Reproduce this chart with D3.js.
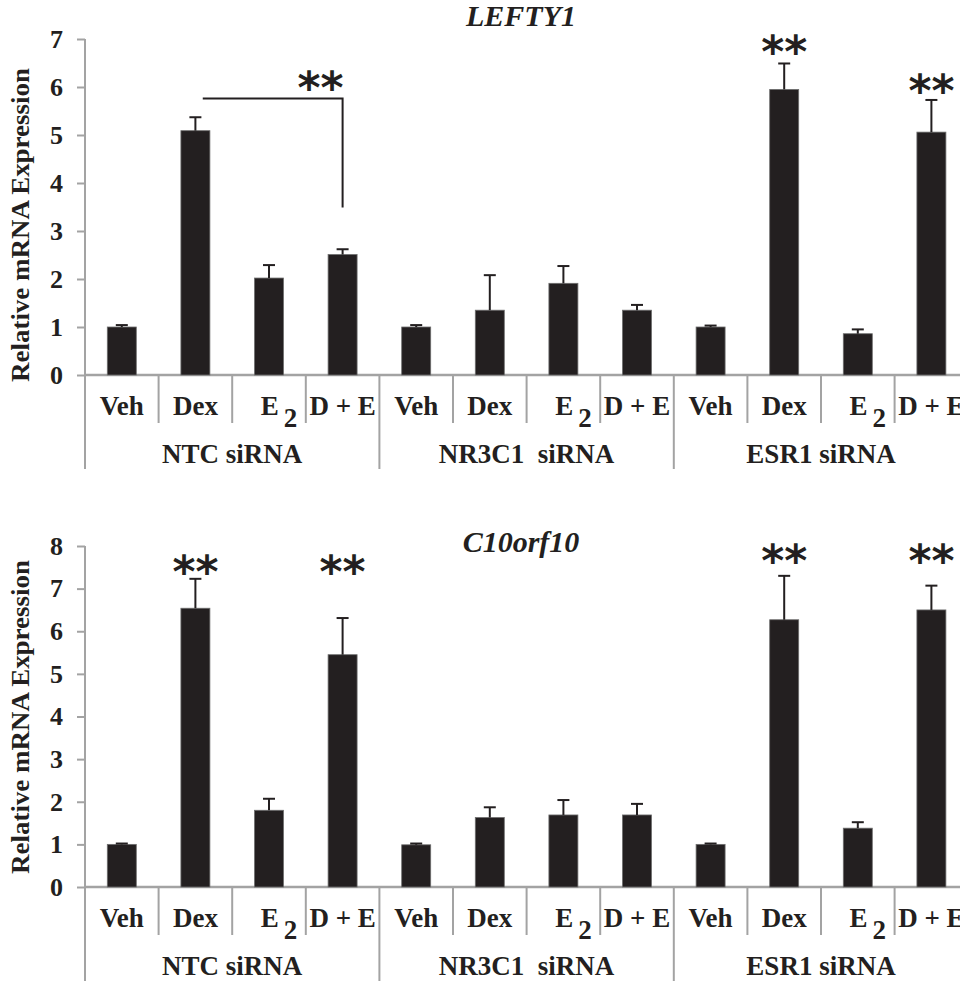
<!DOCTYPE html>
<html>
<head>
<meta charset="UTF-8">
<title>LEFTY1 and C10orf10 expression</title>
<style>
  body { margin: 0; background: #fff; }
  svg { display: block; }
  text { font-family: "Liberation Serif", "Times New Roman", serif; font-weight: bold; fill: #231f20; }
</style>
</head>
<body>
<svg></svg>
<script src="https://d3js.org/d3.v7.min.js"></script>
<script>

// ---- data ----
let treatments = ["Veh", "Dex", "E2", "D + E"];
let groups = ["NTC siRNA", "NR3C1  siRNA", "ESR1 siRNA"];

let leftyTicks = [0, 1, 2, 3, 4, 5, 6, 7];
let leftyMean = [1.00, 5.09, 2.02, 2.51, 1.00, 1.35, 1.91, 1.35, 1.00, 5.95, 0.86, 5.06];
let leftyErr  = [0.04, 0.28, 0.27, 0.11, 0.04, 0.73, 0.36, 0.11, 0.03, 0.54, 0.09, 0.67];
let leftyStars = [[9, 6.9], [11, 6.1]];          // [category, height]
let leftyBracket = [[1.1, 5.76], [3, 5.76], [3, 3.49]];
let leftyBracketStar = [2.7, 6.15];

let c10Ticks = [0, 1, 2, 3, 4, 5, 6, 7, 8];
let c10Mean = [1.00, 6.54, 1.80, 5.45, 0.99, 1.63, 1.69, 1.69, 1.00, 6.27, 1.38, 6.50];
let c10Err  = [0.02, 0.69, 0.27, 0.86, 0.03, 0.24, 0.35, 0.26, 0.02, 1.03, 0.14, 0.57];
let c10Stars = [[1, 7.59], [3, 7.59], [9, 7.85], [11, 7.85]];

// ---- layout ----
let width = 960, height = 981;
let ink = "#231f20", axisGrey = "#a3a3a3";

let svg = d3.select("svg")
    .attr("width", width)
    .attr("height", height);

let x = d3.scaleBand()
    .domain(d3.range(12))
    .range([85, 85 + 73.6 * 12]);

let bw = x.bandwidth();

function drawPanel(p) {
  let g = svg.append("g");
  let y = d3.scaleLinear().domain([0, p.max]).range([p.base, p.top]);

  // y axis ticks + labels
  let ax = g.append("g")
      .attr("transform", `translate(${x(0)},0)`)
      .call(d3.axisLeft(y).tickValues(p.ticks).tickSize(8).tickPadding(14).tickFormat(d3.format("d")));
  ax.select(".domain").remove();
  ax.selectAll(".tick line").attr("stroke", axisGrey).attr("stroke-width", 2);
  ax.selectAll(".tick text")
      .attr("font-size", 26)
      .attr("fill", ink)
      .style("font-family", '"Liberation Serif", serif')
      .style("font-weight", "bold");

  // axis lines
  g.append("line")
      .attr("x1", x(0)).attr("x2", x(0))
      .attr("y1", y(p.max)).attr("y2", p.base + 94)
      .attr("stroke", axisGrey).attr("stroke-width", 2);
  g.append("line")
      .attr("x1", x(0)).attr("x2", width)
      .attr("y1", p.base).attr("y2", p.base)
      .attr("stroke", axisGrey).attr("stroke-width", 2.5);

  // category separators
  g.selectAll(".sep")
    .data(d3.range(1, 12))
    .enter()
    .append("line")
      .attr("x1", d => x(d)).attr("x2", d => x(d))
      .attr("y1", p.base)
      .attr("y2", d => d % 4 == 0 ? p.base + 94 : p.base + 48)
      .attr("stroke", axisGrey).attr("stroke-width", 2);

  // bars
  g.selectAll(".bar")
    .data(p.mean)
    .enter()
    .append("rect")
      .attr("x", (d, i) => x(i) + bw * 0.303)
      .attr("width", bw * 0.394)
      .attr("y", d => y(d))
      .attr("height", d => p.base - y(d))
      .attr("fill", ink)
      .attr("stroke", "#6e6e6e")
      .attr("stroke-width", 0.8);

  // error bars
  let eb = g.selectAll(".err")
    .data(p.mean.map((m, i) => ({i: i, m: m, e: p.err[i]})))
    .enter()
    .append("g");
  eb.append("line")
      .attr("x1", d => x(d.i) + bw / 2).attr("x2", d => x(d.i) + bw / 2)
      .attr("y1", d => y(d.m)).attr("y2", d => y(d.m + d.e))
      .attr("stroke", ink).attr("stroke-width", 2);
  eb.append("line")
      .attr("x1", d => x(d.i) + bw / 2 - 6).attr("x2", d => x(d.i) + bw / 2 + 6)
      .attr("y1", d => y(d.m + d.e)).attr("y2", d => y(d.m + d.e))
      .attr("stroke", ink).attr("stroke-width", 2);

  // category labels
  let cl = g.selectAll(".cat")
    .data(d3.range(12))
    .enter()
    .append("text")
      .attr("x", d => x(d) + bw / 2 + (treatments[d % 4] == "E2" ? 10 : 0))
      .attr("y", p.base + 40)
      .attr("text-anchor", "middle")
      .attr("font-size", 27);
  cl.each(function(d) {
    let t = treatments[d % 4];
    let el = d3.select(this);
    if (t == "E2") {
      el.append("tspan").text("E");
      el.append("tspan").attr("dx", 5).attr("dy", 12).text("2");
    } else {
      el.text(t);
    }
  });

  // group labels
  g.selectAll(".grp")
    .data(groups)
    .enter()
    .append("text")
      .attr("x", (d, i) => x(i * 4 + 2))
      .attr("y", p.base + 88)
      .attr("text-anchor", "middle")
      .attr("font-size", 27)
      .style("white-space", "pre")
      .text(d => d);

  // title
  g.append("text")
      .attr("x", 521)
      .attr("y", p.titleY)
      .attr("text-anchor", "middle")
      .attr("font-size", 30)
      .attr("font-style", "italic")
      .text(p.title);

  // y label
  g.append("text")
      .attr("transform", `translate(29,${p.labelY}) rotate(-90)`)
      .attr("text-anchor", "middle")
      .attr("font-size", 25)
      .attr("textLength", 314)
      .attr("lengthAdjust", "spacingAndGlyphs")
      .text("Relative mRNA Expression");

  // significance stars
  g.selectAll(".star")
    .data(p.stars)
    .enter()
    .append("text")
      .attr("x", d => x(d[0]) + bw / 2)
      .attr("y", d => y(d[1]))
      .attr("text-anchor", "middle")
      .attr("dominant-baseline", "central")
      .attr("dy", 8)
      .attr("font-size", 44)
      .style("font-family", '"DejaVu Sans", sans-serif')
      .text("**");

  return {g: g, y: y};
}

let topPanel = drawPanel({
  base: 375, top: 39, max: 7, ticks: leftyTicks,
  mean: leftyMean, err: leftyErr, stars: leftyStars,
  title: "LEFTY1", titleY: 26, labelY: 225
});

// bracket between NTC Dex and NTC D + E
let bx = d => x(0) + bw * (d[0] + 0.5);
topPanel.g.append("path")
    .attr("d", d3.line().x(bx).y(d => topPanel.y(d[1]))(leftyBracket))
    .attr("fill", "none")
    .attr("stroke", ink)
    .attr("stroke-width", 2);
topPanel.g.append("text")
    .attr("x", bx(leftyBracketStar))
    .attr("y", topPanel.y(leftyBracketStar[1]))
    .attr("text-anchor", "middle")
    .attr("dominant-baseline", "central")
    .attr("dy", 8)
    .attr("font-size", 44)
    .style("font-family", '"DejaVu Sans", sans-serif')
    .text("**");

drawPanel({
  base: 887, top: 546, max: 8, ticks: c10Ticks,
  mean: c10Mean, err: c10Err, stars: c10Stars,
  title: "C10orf10", titleY: 552, labelY: 717
});

</script>
</body>
</html>
